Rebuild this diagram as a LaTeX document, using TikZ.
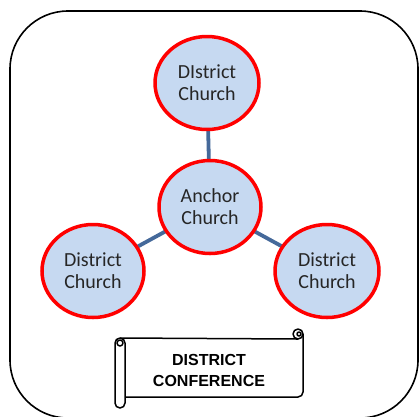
\documentclass[tikz,border=0pt]{standalone}
\usepackage{fontspec}
\setmainfont{Carlito}
\newfontfamily\bannerfont{Liberation Sans}
\usetikzlibrary{shapes.geometric}

\definecolor{churchblue}{HTML}{C6D9F1}
\definecolor{linkblue}{HTML}{45699A}

\begin{document}
\begin{tikzpicture}[
    x=1pt, y=-1pt,
    church/.style={ellipse, draw=red, fill=churchblue, line width=3.5pt, minimum width=102pt, minimum height=93pt, inner sep=0pt, align=center, text=black!85, font=\fontsize{20}{22}\selectfont},
    link/.style={draw=linkblue, line width=3.8pt},
    scroll/.style={line width=1.5pt, line join=round}
]
    \useasboundingbox (0,0) rectangle (419,416);

    % outer frame
    \draw[line width=1.6pt, rounded corners=58pt] (10,11) rectangle (418,418);

    % links first, circles on top
    \coordinate (c-anchor) at (210,207);
    \coordinate (c-north) at (207,83);
    \coordinate (c-west) at (93,271);
    \coordinate (c-east) at (327,271);
    \draw[link] (c-north) -- (c-anchor);
    \draw[link] (c-anchor) -- (c-west);
    \draw[link] (c-anchor) -- (c-east);

    \node[church] (anchor) at (c-anchor) {Anchor\\Church};
    \node[church, minimum width=104pt] (north) at (c-north) {DIstrict\\Church};
    \node[church] (west) at (c-west) {District\\Church};
    \node[church, minimum width=104pt] (east) at (c-east) {District\\Church};

    % banner scroll
    \draw[scroll] (120,338) -- (298,339);
    \draw[scroll, rounded corners=5pt] (303,334) -- (303,397) -- (125,397);
    \draw[scroll] (298,334) circle[radius=5pt];
    \draw[scroll] (299,334) circle[radius=2pt];
    \draw[scroll, fill=white, rounded corners=5pt] (115,338) rectangle (125,408);
    \draw[scroll] (120,343) circle[radius=3pt];
    \node[font=\bannerfont\bfseries\fontsize{16}{21}\selectfont, align=center] (conf) at (209,370) {DISTRICT\\CONFERENCE};
\end{tikzpicture}
\end{document}
